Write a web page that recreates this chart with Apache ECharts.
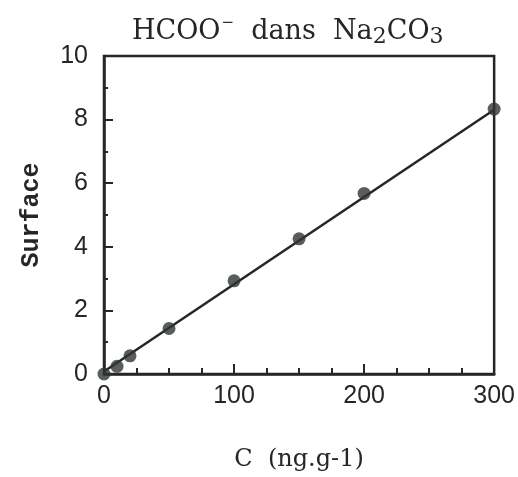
<!DOCTYPE html>
<html>
<head>
<meta charset="utf-8">
<script src="https://cdn.jsdelivr.net/npm/echarts@6/dist/echarts.min.js"></script>
<style>html,body{margin:0;padding:0;background:#fff;}#c{width:518px;height:477px;}</style>
</head>
<body>
<div id="c"></div>
<script>
const concentrations = [0, 10, 20, 50, 100, 150, 200, 300];
const surfaces = [0, 0.24, 0.57, 1.43, 2.93, 4.25, 5.68, 8.33];
const fitX = [0, 300];
const fitY = [0.08, 8.31];
const xTickLabels = ['0', '100', '200', '300'];
const yTickLabels = ['0', '2', '4', '6', '8', '10'];

const chart = echarts.init(document.getElementById('c'), null, {renderer: 'canvas'});
const ink = '#262626';
const sans = '"Liberation Sans", Arial, sans-serif';
const serif = '"DejaVu Serif", serif';
chart.setOption({
  backgroundColor: '#ffffff',
  animation: false,
  title: {
    text: '{n|HCOO}{sup|\u2212}{n|  dans  Na}{sub|2}{n|CO}{sub|3}',
    left: 132,
    top: 16,
    padding: 0,
    textStyle: {
      fontWeight: 'normal',
      rich: {
        n: {fontFamily: serif, fontSize: 27, fontWeight: 'normal', color: ink, lineHeight: 32, verticalAlign: 'middle'},
        sup: {fontFamily: serif, fontSize: 15, fontWeight: 'normal', color: ink, lineHeight: 32, verticalAlign: 'top', padding: [0, 0, 0, 1]},
        sub: {fontFamily: serif, fontSize: 22, fontWeight: 'normal', color: ink, lineHeight: 23, verticalAlign: 'bottom'}
      }
    }
  },
  grid: {left: 104, right: 22, top: 56, bottom: 101, show: true, borderColor: ink, borderWidth: 2.5, backgroundColor: 'transparent'},
  xAxis: {
    type: 'value', min: 0, max: 300, interval: 100,
    name: 'C  (ng.g-1)', nameLocation: 'middle', nameGap: 74,
    nameTextStyle: {fontFamily: serif, fontSize: 24, color: ink},
    axisLine: {show: true, lineStyle: {color: ink, width: 2.5}},
    axisTick: {show: true, inside: true, length: 10, lineStyle: {color: ink, width: 2}},
    minorTick: {show: true, splitNumber: 4, length: 6, lineStyle: {color: ink, width: 2}},
    splitLine: {show: false},
    axisLabel: {
      fontFamily: sans, fontSize: 25, color: ink, margin: 10,
      formatter: function (v) { const i = Math.round(v / 100); return xTickLabels[i] !== undefined ? xTickLabels[i] : ''; }
    }
  },
  yAxis: {
    type: 'value', min: 0, max: 10, interval: 2,
    name: 'Surface', nameLocation: 'middle', nameGap: 60, nameRotate: 90,
    nameTextStyle: {fontFamily: '"Liberation Mono", "Courier New", monospace', fontSize: 25, fontWeight: 'bold', color: ink},
    axisLine: {show: true, lineStyle: {color: ink, width: 2.5}},
    axisTick: {show: true, inside: true, length: 9, lineStyle: {color: ink, width: 2}},
    minorTick: {show: true, splitNumber: 2, length: 4, lineStyle: {color: ink, width: 2}},
    splitLine: {show: false},
    axisLabel: {
      fontFamily: sans, fontSize: 25, color: ink, margin: 16,
      formatter: function (v) { const i = Math.round(v / 2); return yTickLabels[i] !== undefined ? yTickLabels[i] : ''; }
    }
  },
  series: [
    {
      type: 'line', data: fitX.map((x, i) => [x, fitY[i]]),
      symbol: 'none', lineStyle: {color: ink, width: 2.5}, silent: true, z: 2
    },
    {
      type: 'scatter', data: concentrations.map((x, i) => [x, surfaces[i]]),
      symbol: 'circle', symbolSize: 13, itemStyle: {color: '#303633'}, clip: false, z: 3
    }
  ]
});
</script>
</body>
</html>
